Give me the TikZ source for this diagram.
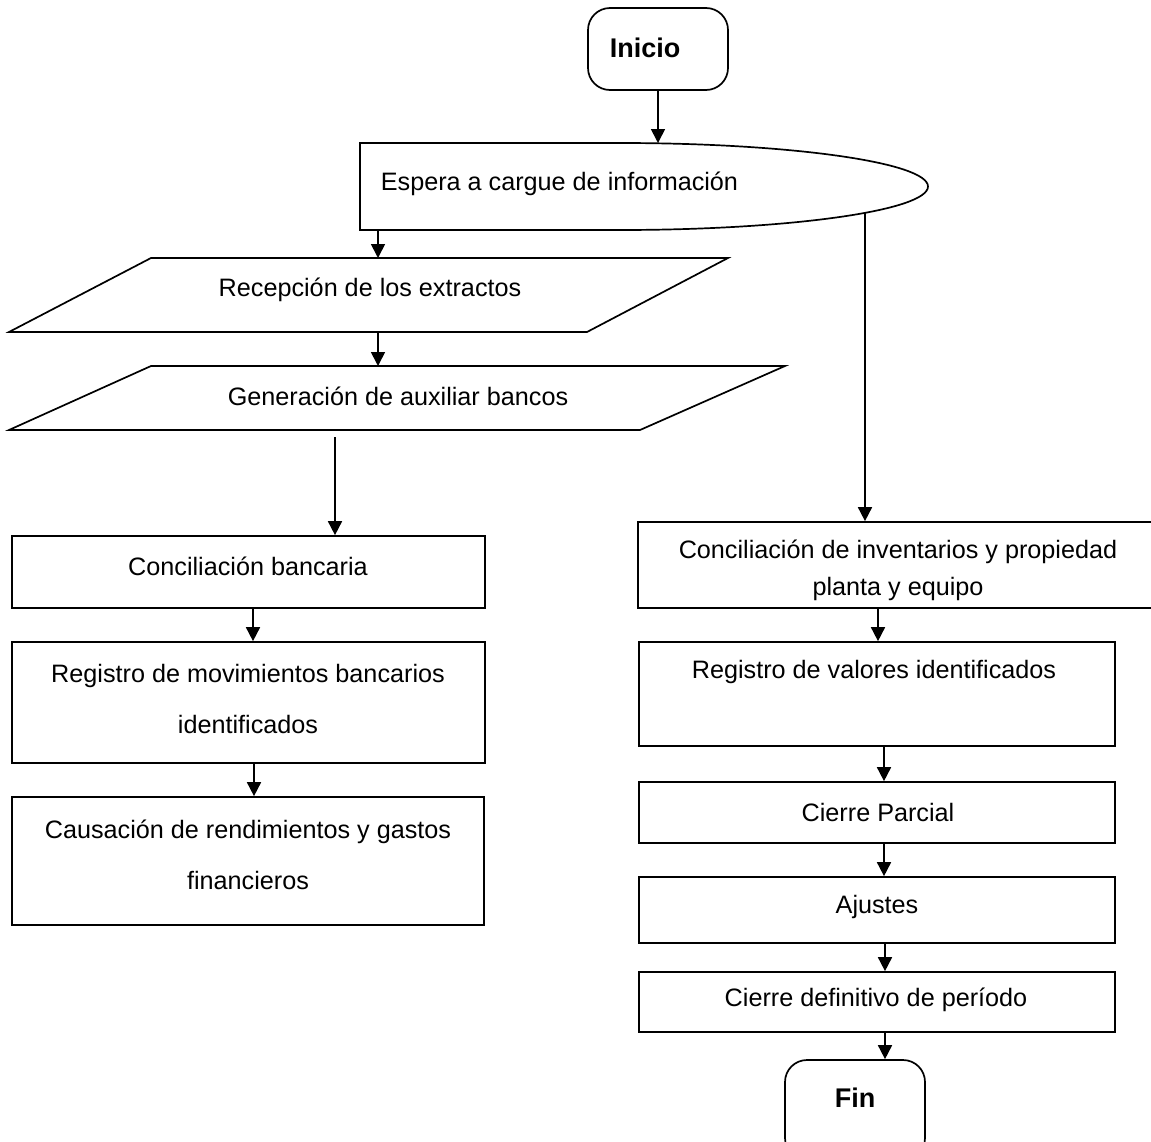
\documentclass[tikz,border=0pt]{standalone}
\usepackage{fontspec}
\setmainfont{Liberation Sans}
\usetikzlibrary{arrows.meta,calc,fit}
\begin{document}
\begin{tikzpicture}[x=0.5pt,y=-0.5pt,
  line width=0.85pt,
  >={Triangle[length=7pt,width=7pt]},
  box/.style={draw,rectangle,inner sep=0pt},
  term/.style={draw,rectangle,rounded corners=11pt,inner sep=0pt},
  txt/.style={font=\fontsize{12.6}{15}\selectfont,inner sep=0pt,align=center},
  btxt/.style={font=\fontsize{13.5}{16}\selectfont\bfseries,inner sep=0pt,align=center},
  txtwide/.style={font=\fontsize{12.6}{25.5}\selectfont,inner sep=0pt,align=center},
  txtmid/.style={font=\fontsize{12.6}{18.5}\selectfont,inner sep=0pt,align=center},
  arr/.style={->}]
\useasboundingbox (0,0) rectangle (1151,1141);
\clip (0,0) rectangle (1151,1141);
\fill[white] (0,0) rectangle (1151,1141);

% Inicio
\node[term, fit={(588,8) (728,90)}] (ini) {};
\node[btxt] (iniT) at (645,48) {Inicio};

% Espera (rectangle + half ellipse)
\draw (360,143) -- (620,143) arc[start angle=90, end angle=-90, x radius=154pt, y radius=21.75pt] -- (360,230) -- cycle;
\node[txt, anchor=west] (esp) at (380,184) {Espera a cargue de información};
\coordinate (espTop) at (658,143);
\coordinate (espBL) at (378,230);
\coordinate (espBR) at (865,213);

% Parallelograms
\draw (151,258) -- (728,258) -- (587,332) -- (9,332) -- cycle;
\node[txt] (rec) at (370,290) {Recepción de los extractos};
\coordinate (recT) at (378,258);
\coordinate (recB) at (378,332);
\draw (151,366) -- (785,366) -- (640,430) -- (9,430) -- cycle;
\node[txt] (gen) at (398,396) {Generación de auxiliar bancos};
\coordinate (genT) at (378,366);
\coordinate (genB) at (335,437);

% Left column boxes
\node[box, fit={(12,536) (485,608)}] (cb) {};
\node[txt] (cbT) at (248,566) {Conciliación bancaria};
\node[box, fit={(12,642) (485,763)}] (rm) {};
\node[txtwide] (rmT) at (248,699) {Registro de movimientos bancarios\\identificados};
\node[box, fit={(12,797) (484,925)}] (ca) {};
\node[txtwide] (caT) at (248,855) {Causación de rendimientos y gastos\\financieros};

% Right column boxes
\node[box, fit={(638,522) (1165,608)}] (ci) {};
\node[txtmid] (ciT) at (898,570) {Conciliación de inventarios y propiedad\\planta y equipo};
\node[box, fit={(639,642) (1115,746)}] (rv) {};
\node[txt] (rvT) at (874,672) {Registro de valores identificados};
\node[box, fit={(639,782) (1115,843)}] (cp) {};
\node[txt] (cpT) at (878,812) {Cierre Parcial};
\node[box, fit={(639,877) (1115,943)}] (aj) {};
\node[txt] (ajT) at (877,907) {Ajustes};
\node[box, fit={(639,972) (1115,1032)}] (cd) {};
\node[txt] (cdT) at (876,1000) {Cierre definitivo de período};

% Fin
\node[term, fit={(785,1060) (925,1160)}] (fin) {};
\node[btxt] (finT) at (855,1098) {Fin};

% Connectors
\draw[arr] (ini.south -| espTop) -- (espTop);
\draw[arr] (espBL) -- (recT);
\draw[arr] (recB) -- (genT);
\draw[arr] (genB) -- (cb.north -| genB);
\draw[arr] (cb.south -| 253,0) -- (rm.north -| 253,0);
\draw[arr] (rm.south -| 254,0) -- (ca.north -| 254,0);
\draw[arr] (espBR) -- (ci.north -| espBR);
\draw[arr] (ci.south -| 878,0) -- (rv.north -| 878,0);
\draw[arr] (rv.south -| 884,0) -- (cp.north -| 884,0);
\draw[arr] (cp.south -| 884,0) -- (aj.north -| 884,0);
\draw[arr] (aj.south -| 885,0) -- (cd.north -| 885,0);
\draw[arr] (cd.south -| 885,0) -- (fin.north -| 885,0);
\end{tikzpicture}
\end{document}
